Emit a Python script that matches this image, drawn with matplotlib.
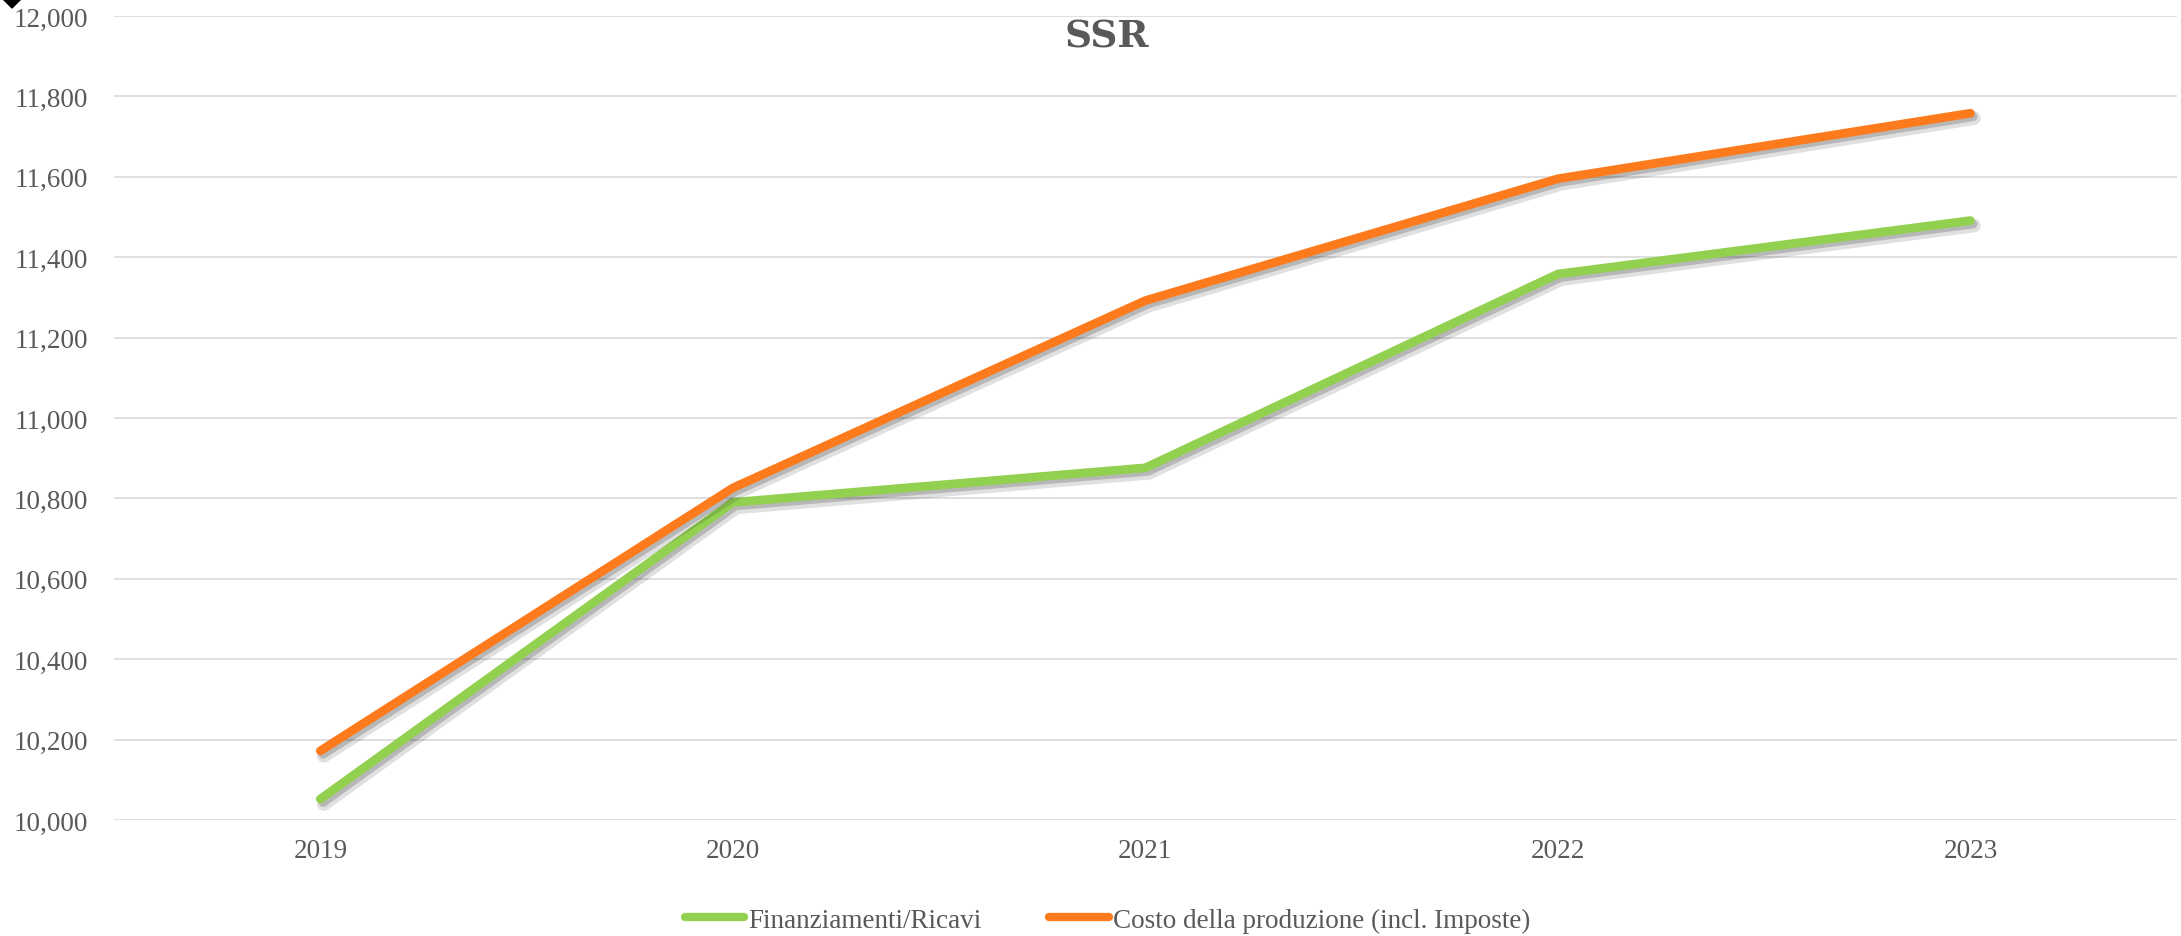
import matplotlib
matplotlib.use("Agg")
import matplotlib.pyplot as plt
import matplotlib.patheffects as pe
from matplotlib.patches import Polygon
from matplotlib.ticker import FuncFormatter

# dati
anni = ["2019", "2020", "2021", "2022", "2023"]
finanziamenti = [10052, 10790, 10876, 11358, 11491]
costo_produzione = [10172, 10826, 11292, 11595, 11758]
nomi_serie = ["Finanziamenti/Ricavi", "Costo della produzione (incl. Imposte)"]
colori = ["#92D050", "#FD7B1C"]

grigio = "#595959"

fig = plt.figure(figsize=(21.81, 9.37), dpi=100)
ax = fig.add_axes([0.0523, 0.1238, 0.9457, 0.8581])

x = range(len(anni))
ombra = [pe.SimpleLineShadow(offset=(2.5, -3.5), alpha=0.12, shadow_color="black", linewidth=10),
         pe.SimpleLineShadow(offset=(2, -2.5), alpha=0.18, shadow_color="black"),
         pe.Normal()]
for valori, nome, col in zip([finanziamenti, costo_produzione], nomi_serie, colori):
    ax.plot(x, valori, color=col, lw=6.3, label=nome, solid_capstyle="round",
            solid_joinstyle="miter", path_effects=ombra, zorder=3)

ax.set_xlim(-0.5, len(anni) - 0.5)
ax.set_ylim(10000, 12000)
ax.set_yticks(range(10000, 12001, 200))
ax.yaxis.set_major_formatter(FuncFormatter(lambda v, p: f"{int(v):,}"))
ax.set_xticks(list(x))
ax.set_xticklabels(anni)

ax.grid(axis="y", color="#D9D9D9", lw=1.2)
ax.set_axisbelow(True)
for s in ax.spines.values():
    s.set_visible(False)
ax.tick_params(length=0, labelcolor=grigio, labelsize=19.5)
ax.tick_params(axis="y", pad=19)
ax.tick_params(axis="x", pad=13)
for lab in ax.get_xticklabels() + ax.get_yticklabels():
    lab.set_family("Liberation Serif")

fig.text(0.5076, 0.9605, "SSR", ha="center", va="center", fontsize=27,
         fontweight="bold", color=grigio, family="DejaVu Serif")

leg = fig.legend(loc="center", bbox_to_anchor=(0.5078, 0.017), ncol=2, frameon=False,
                 handlelength=2.2, handletextpad=0.15, columnspacing=2.5,
                 borderpad=0.1, prop={"family": "Liberation Serif", "size": 19.5})
for t in leg.get_texts():
    t.set_color(grigio)
for h in leg.get_lines():
    h.set_linewidth(6)
    h.set_path_effects([])

# piccolo rombo nero in alto a sinistra
fig.add_artist(Polygon([[3, 937], [12, 928], [21, 937], [12, 946]], closed=True,
                       color="black", transform=None))

fig.savefig("out.png", dpi=100)
